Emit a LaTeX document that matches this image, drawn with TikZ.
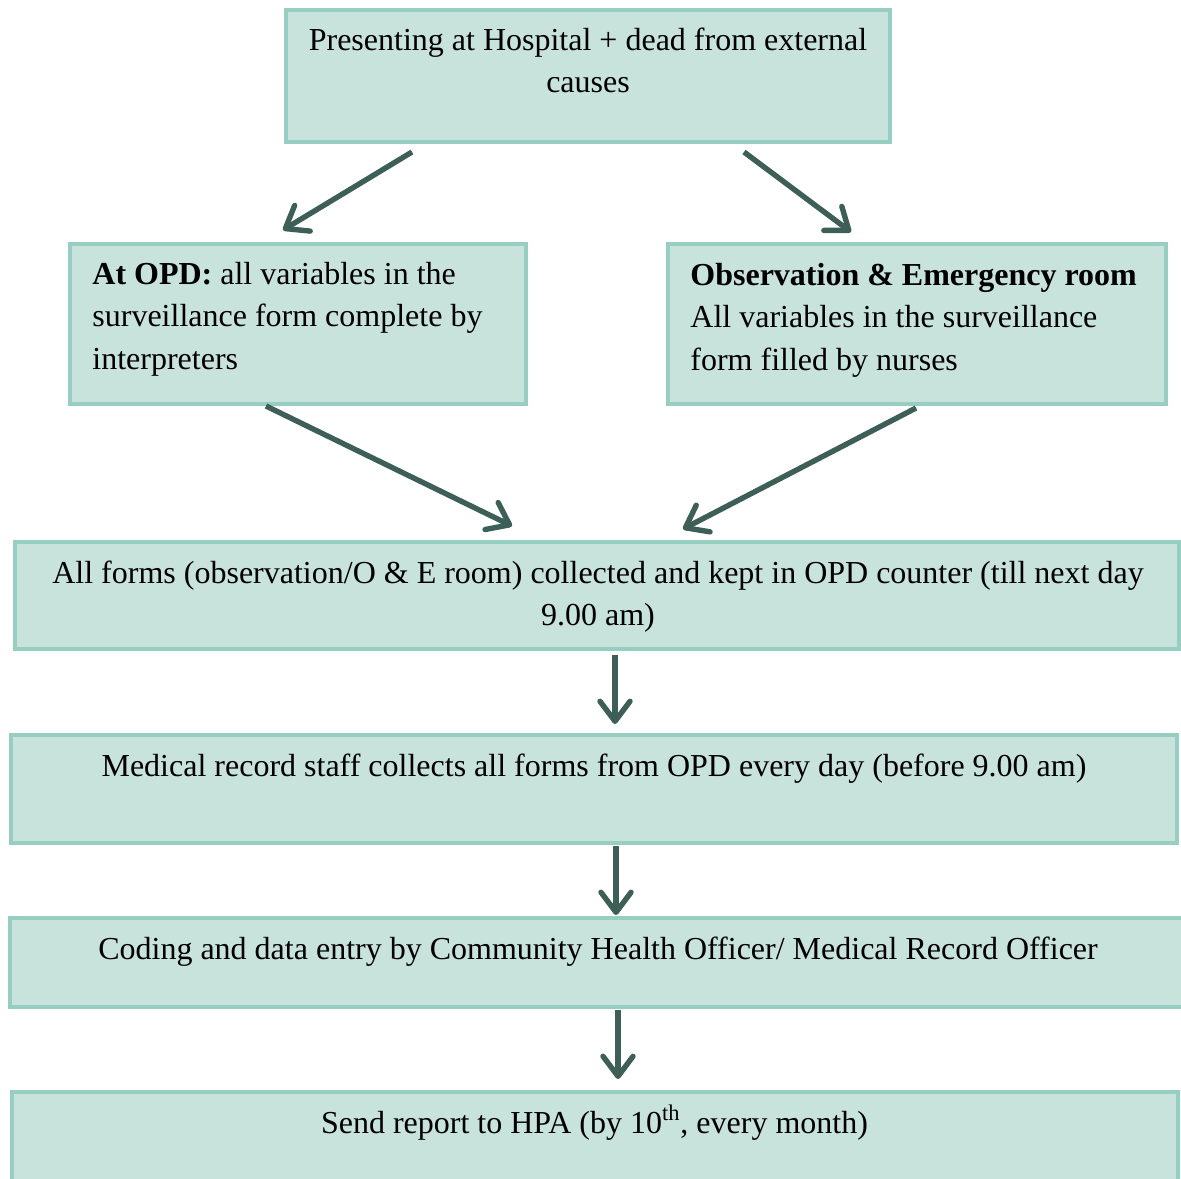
\documentclass[tikz,border=0pt]{standalone}
\usepackage{fontspec}
\setmainfont{Liberation Serif}
\usetikzlibrary{arrows.meta}
\definecolor{boxfill}{HTML}{C8E2DC}
\definecolor{boxline}{HTML}{98CDC2}
\definecolor{arrowc}{HTML}{3E5F57}
\begin{document}
\begin{tikzpicture}[x=0.5pt,y=-0.5pt,
  box/.style={draw=boxline, fill=boxfill, line width=2pt, rectangle, inner sep=0pt, outer sep=0pt, anchor=north west},
  txt/.style={inner sep=0pt, font=\fontsize{16}{21.25}\selectfont},
  flow/.style={draw=arrowc, line width=2.7pt, -{Straight Barb[length=10pt,width=15pt,round]}}]
\useasboundingbox (0,0) rectangle (1181,1178);
\clip (0,0) rectangle (1181,1178);
% boxes
\node[box, minimum width=302pt, minimum height=66pt] (b1) at (286,10) {};
\node[box, minimum width=228pt, minimum height=80pt] (b2) at (70,244) {};
\node[box, minimum width=249pt, minimum height=80pt] (b3) at (668,244) {};
\node[box, minimum width=582pt, minimum height=53.5pt] (b4) at (15,542) {};
\node[box, minimum width=583pt, minimum height=54pt] (b5) at (11,735) {};
\node[box, minimum width=586.5pt, minimum height=44.5pt] (b6) at (10,918) {};
\node[box, minimum width=583pt, minimum height=60pt] (b7) at (12,1092) {};
% texts
\node[txt, anchor=north, align=center] (t1) at (588,20.25) {\strut Presenting at Hospital + dead from external\\causes};
\node[txt, anchor=north west, align=left] (t2) at (92,254.25) {\strut\textbf{At OPD:} all variables in the\\surveillance form complete by\\interpreters};
\node[txt, anchor=north west, align=left] (t3) at (690,255.25) {\strut\textbf{Observation \& Emergency room}\\All variables in the surveillance\\form filled by nurses};
\node[txt, anchor=north, align=center] (t4) at (598,553.25) {\strut All forms (observation/O \& E room) collected and kept in OPD counter (till next day\\9.00 am)};
\node[txt, anchor=base] (t5) at (594,776) {Medical record staff collects all forms from OPD every day (before 9.00 am)};
\node[txt, anchor=base] (t6) at (598,959) {Coding and data entry by Community Health Officer/ Medical Record Officer};
\node[txt, anchor=base] (t7) at (594.5,1133) {Send report to HPA (by 10\textsuperscript{th}, every month)};
% arrow ends
\coordinate (a1s) at (412,152); \coordinate (a1e) at (283,230);
\coordinate (a2s) at (744,152); \coordinate (a2e) at (851,232);
\coordinate (a3s) at (266,406); \coordinate (a3e) at (512,526);
\coordinate (a4s) at (916,408); \coordinate (a4e) at (683,529);
\coordinate (a5s) at (615,655); \coordinate (a5e) at (615,724);
\coordinate (a6s) at (616,846); \coordinate (a6e) at (616,915);
\coordinate (a7s) at (618,1010); \coordinate (a7e) at (618,1079);
\draw[flow] (a1s) -- (a1e);
\draw[flow] (a2s) -- (a2e);
\draw[flow] (a3s) -- (a3e);
\draw[flow] (a4s) -- (a4e);
\draw[flow] (a5s) -- (a5e);
\draw[flow] (a6s) -- (a6e);
\draw[flow] (a7s) -- (a7e);
\end{tikzpicture}
\end{document}
